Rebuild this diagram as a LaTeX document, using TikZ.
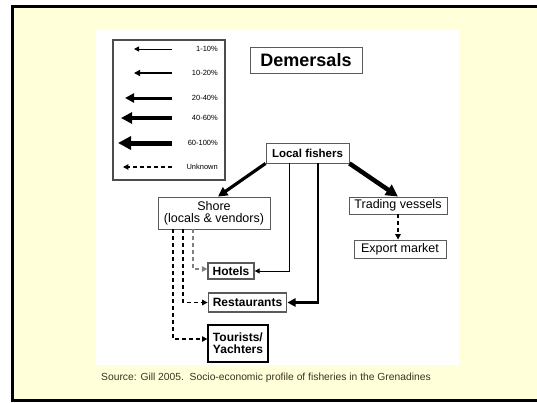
\documentclass[tikz,border=0pt]{standalone}
\usepackage{fontspec}
\setmainfont{Liberation Sans}
\usepackage{tikz}
\usetikzlibrary{arrows.meta}

\definecolor{slidebg}{HTML}{FFFFD9}
\definecolor{boxline}{HTML}{5A5A5A}
\definecolor{srcbrown}{HTML}{3B3222}

\begin{document}
\begin{tikzpicture}[x=1pt, y=-1pt, >={Triangle[length=3pt 2 0, width=3pt 2 0]},
    box/.style={draw=boxline, line width=0.9pt, fill=white, inner sep=0pt,
                font=\fontsize{12}{12}\selectfont},
    boldbox/.style={box, font=\fontsize{12}{12}\selectfont\bfseries},
    leglabel/.style={anchor=east, inner sep=0pt, font=\fontsize{7.5}{7.5}\selectfont},
    flow/.style={->, line cap=butt},
    unknown/.style={->, dashed, line width=1.2pt, dash pattern=on 4pt off 3pt}]
    \useasboundingbox (0,0) rectangle (537,402);

    % Slide background, frame and white panel
    \fill[white] (0,0) rectangle (537,402);
    \fill[slidebg] (12.5,6.5) rectangle (545,400.5);
    \draw[line width=3pt] (12.5,6.5) rectangle (545,400.5);
    \fill[white] (96,30) rectangle (459,365);

    % Legend
    \node[draw=gray!60!black, line width=1.5pt, minimum width=112pt, minimum height=140pt] (legend) at (169,110) {};
    \foreach \y/\t/\w/\lab [count=\i] in {49/134/1.0/1-10\%, 73/134/1.6/10-20\%, 98/125/3.0/20-40\%,
                                          118/121/4.0/40-60\%, 143/118/5.0/60-100\%} {
        \coordinate (tail\i) at (172,\y);
        \coordinate (tip\i) at (\t,\y);
        \draw[flow, line width=\w pt] (tail\i) -- (tip\i);
        \node[leglabel] (lab\i) at (218,\y) {\lab};
    }
    \coordinate (tail6) at (172,167);
    \coordinate (tip6) at (123,167);
    \draw[unknown] (tail6) -- (tip6);
    \node[leglabel] (lab6) at (218,167) {Unknown};

    % Title
    \node[box, font=\fontsize{18}{18}\selectfont\bfseries, minimum width=112pt, minimum height=26pt] (title) at (306,60) {Demersals};

    % Boxes of the flow
    \node[boldbox, font=\fontsize{11.5}{11.5}\selectfont\bfseries, minimum width=83pt, minimum height=20pt] (fishers) at (307.5,153) {Local fishers};
    \node[box, align=center, font=\fontsize{12.5}{12}\selectfont, minimum width=112pt, minimum height=32pt] (shore) at (214,213) {Shore\\(locals \& vendors)};
    \node[box, font=\fontsize{12.5}{12}\selectfont, minimum width=98pt, minimum height=17pt] (trading) at (398,205.5) {Trading vessels};
    \node[box, font=\fontsize{12.5}{12}\selectfont, minimum width=92pt, minimum height=18pt] (export) at (400,249) {Export market};
    \node[boldbox, line width=1.3pt, minimum width=46pt, minimum height=16pt] (hotels) at (231,271) {Hotels};
    \node[boldbox, line width=1.8pt, minimum width=78pt, minimum height=19pt] (restaurants) at (247.5,302.5) {Restaurants};
    \node[boldbox, draw=black, line width=1.2pt, align=left, minimum width=60pt, minimum height=37pt] (tourists) at (238,343.5) {Tourists/\\Yachters};

    % Flows out of the local fishers
    \draw[flow, line width=3.2pt] (fishers.south west) -- ([xshift=4pt]shore.north);
    \draw[flow, line width=4.5pt] (fishers.south east) -- (trading.north);
    \draw[flow, line width=1pt] ([xshift=-18.5pt]fishers.south) |- (hotels.east);
    \draw[flow, line width=2.6pt] ([xshift=10.5pt]fishers.south) |- (restaurants.east);

    % Flows of unknown size
    \draw[unknown] (trading.south) -- (trading.south |- export.north);
    \draw[unknown, gray] ([xshift=-21pt]shore.south) |- ([yshift=2pt]hotels.west);
    \draw[unknown] ([xshift=-31pt]shore.south) |- (restaurants.west);
    \draw[unknown] ([xshift=-41pt]shore.south) |- ([yshift=4.5pt]tourists.west);

    % Source line
    \node[anchor=west, inner sep=0pt, text=srcbrown, font=\fontsize{10.3}{10.3}\selectfont] (source) at (101,378)
        {Source: Gill 2005.\ \ Socio-economic profile of fisheries in the Grenadines};
\end{tikzpicture}
\end{document}
